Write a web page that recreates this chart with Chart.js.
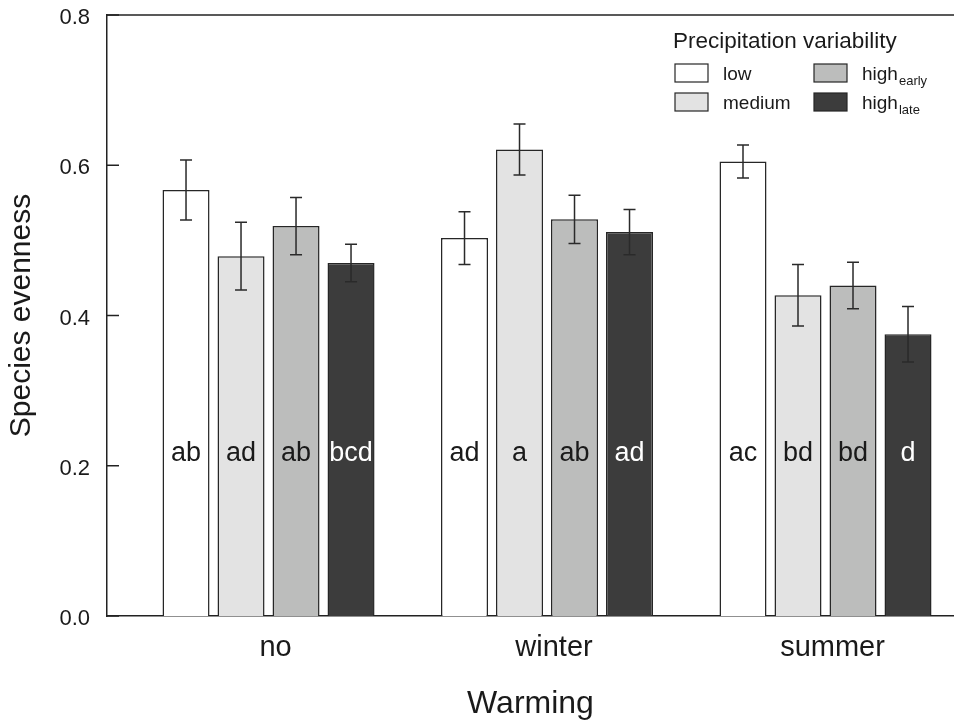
<!DOCTYPE html>
<html><head><meta charset="utf-8">
<script src="https://cdn.jsdelivr.net/npm/chart.js@4.4.0/dist/chart.umd.min.js"></script>
<style>html,body{margin:0;padding:0;background:#fff;} #wrap{width:954px;height:720px;position:relative;}</style>
</head><body><div id="wrap"><canvas id="c" width="954" height="720"></canvas></div>
<script>
// ---- data ----
const warming = ['no', 'winter', 'summer'];
const seriesNames = ['low', 'medium', 'high_early', 'high_late'];
const legendMain = ['low', 'medium', 'high', 'high'];
const legendSub = ['', '', 'early', 'late'];
const lowVals = [0.567, 0.503, 0.605];
const mediumVals = [0.479, 0.621, 0.427];
const highEarlyVals = [0.519, 0.528, 0.440];
const highLateVals = [0.470, 0.511, 0.375];
const lowErr = [0.040, 0.035, 0.022];
const mediumErr = [0.045, 0.034, 0.041];
const highEarlyErr = [0.038, 0.032, 0.031];
const highLateErr = [0.025, 0.030, 0.037];
const lowLetters = ['ab', 'ad', 'ac'];
const mediumLetters = ['ad', 'a', 'bd'];
const highEarlyLetters = ['ab', 'ab', 'bd'];
const highLateLetters = ['bcd', 'ad', 'd'];
const yTicks = [0, 0.2, 0.4, 0.6, 0.8];

// ---- styling ----
const FONT = '"Liberation Sans", Arial, Helvetica, sans-serif';
const INK = '#1a1a1a';
const fills = ['#ffffff', '#e3e3e3', '#bcbdbc', '#3c3c3c'];
const letterColors = [INK, INK, INK, '#ffffff'];
const LETTER_LEVEL = 0.216;

const allVals = [lowVals, mediumVals, highEarlyVals, highLateVals];
const allErr = [lowErr, mediumErr, highEarlyErr, highLateErr];
const allLetters = [lowLetters, mediumLetters, highEarlyLetters, highLateLetters];

const datasets = seriesNames.map((name, s) => ({
  label: name,
  data: allVals[s].map((v, i) => ({x: i, y: v})),
  backgroundColor: fills[s],
  borderColor: '#262626',
  borderWidth: 1.5,
  categoryPercentage: 0.79,
  barPercentage: 0.855,
  errors: allErr[s],
  letters: allLetters[s],
  letterColor: letterColors[s]
}));

const extras = {
  id: 'extras',
  afterDatasetsDraw(chart) {
    const ctx = chart.ctx;
    const y = chart.scales.y;
    const ca = chart.chartArea;
    ctx.save();
    // top frame line
    ctx.strokeStyle = '#222';
    ctx.lineWidth = 1.5;
    ctx.beginPath();
    ctx.moveTo(ca.left, ca.top);
    ctx.lineTo(ca.right, ca.top);
    ctx.stroke();
    // inward y ticks
    yTicks.forEach(v => {
      const py = y.getPixelForValue(v);
      ctx.beginPath();
      ctx.moveTo(ca.left, py);
      ctx.lineTo(ca.left + 12, py);
      ctx.stroke();
    });
    chart.data.datasets.forEach((ds, di) => {
      const meta = chart.getDatasetMeta(di);
      meta.data.forEach((el, i) => {
        const v = ds.data[i].y;
        const e = ds.errors[i];
        const x = el.x;
        const yt = y.getPixelForValue(v + e);
        const yb = y.getPixelForValue(v - e);
        ctx.strokeStyle = '#2a2a2a';
        ctx.lineWidth = 1.5;
        ctx.beginPath();
        ctx.moveTo(x, yt); ctx.lineTo(x, yb);
        ctx.moveTo(x - 6, yt); ctx.lineTo(x + 6, yt);
        ctx.moveTo(x - 6, yb); ctx.lineTo(x + 6, yb);
        ctx.stroke();
        ctx.fillStyle = ds.letterColor;
        ctx.font = '27px ' + FONT;
        ctx.textAlign = 'center';
        ctx.textBaseline = 'middle';
        ctx.fillText(ds.letters[i], x, y.getPixelForValue(LETTER_LEVEL));
      });
    });
    // legend
    ctx.fillStyle = INK;
    ctx.textAlign = 'left';
    ctx.textBaseline = 'alphabetic';
    ctx.font = '22.5px ' + FONT;
    ctx.fillText('Precipitation variability', 673, 48);
    const boxX = [675, 675, 814, 814];
    const boxY = [64, 93, 64, 93];
    seriesNames.forEach((n, s) => {
      ctx.fillStyle = fills[s];
      ctx.fillRect(boxX[s], boxY[s], 33, 18);
      ctx.strokeStyle = '#262626';
      ctx.lineWidth = 1.2;
      ctx.strokeRect(boxX[s], boxY[s], 33, 18);
      ctx.fillStyle = INK;
      ctx.font = '19px ' + FONT;
      const tx = boxX[s] + 48;
      const ty = boxY[s] + 16;
      ctx.fillText(legendMain[s], tx, ty);
      if (legendSub[s]) {
        const w = ctx.measureText(legendMain[s]).width;
        ctx.font = '13px ' + FONT;
        ctx.fillText(legendSub[s], tx + w + 1, ty + 5);
      }
    });
    ctx.restore();
  }
};

new Chart(document.getElementById('c'), {
  type: 'bar',
  data: {datasets},
  options: {
    responsive: false,
    animation: false,
    devicePixelRatio: 1,
    layout: {autoPadding: false, padding: {top: 15, right: 0, left: 0, bottom: 0}},
    plugins: {legend: {display: false}, tooltip: {enabled: false}},
    scales: {
      x: {
        type: 'linear', min: -0.58, max: 2.4614, offset: false,
        afterBuildTicks: s => { s.ticks = warming.map((_, i) => ({value: i})); },
        afterFit: s => { s.height = 104; s.paddingLeft = 0; s.paddingRight = 0; },
        grid: {display: false, drawTicks: false},
        border: {display: true, color: '#222', width: 1.5},
        ticks: {callback: v => warming[v], font: {size: 29, family: FONT}, color: INK, padding: 15, labelOffset: 7, maxRotation: 0, autoSkip: false},
        title: {display: true, text: 'Warming', font: {size: 32, family: FONT, lineHeight: 1.0}, color: INK, padding: {top: 0, bottom: 0}}
      },
      y: {
        min: 0, max: 0.8,
        afterBuildTicks: s => { s.ticks = yTicks.map(v => ({value: v})); },
        afterFit: s => { s.width = 107; s.paddingTop = 0; s.paddingBottom = 0; },
        grid: {display: false, drawTicks: false},
        border: {display: true, color: '#222', width: 1.5},
        ticks: {callback: v => v.toFixed(1), font: {size: 22, family: FONT}, color: INK, padding: 17, labelOffset: 3},
        title: {display: true, text: 'Species evenness', font: {size: 30, family: FONT}, color: INK, padding: {top: 4, bottom: 0}}
      }
    }
  },
  plugins: [extras]
});
</script>
</body></html>
